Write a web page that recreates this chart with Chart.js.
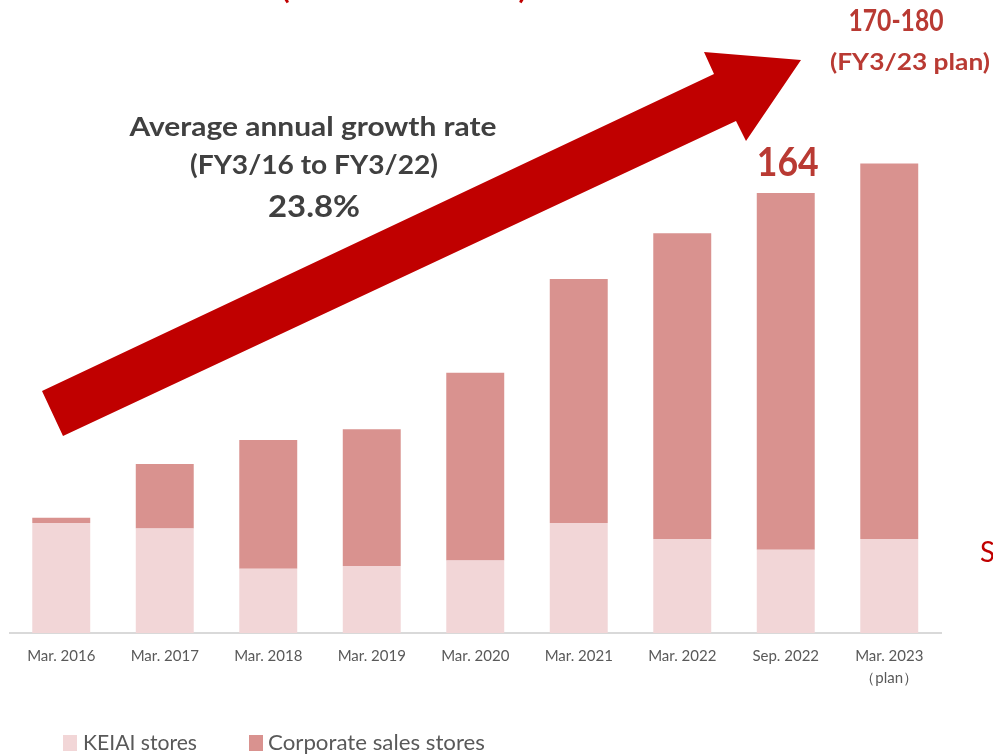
<!DOCTYPE html>
<html>
<head>
<meta charset="utf-8">
<script src="https://cdn.jsdelivr.net/npm/chart.js@4.4.0/dist/chart.umd.min.js"></script>
<style>
  html, body { margin: 0; padding: 0; background: #fff; }
  #wrap { width: 993px; height: 755px; position: relative; }
</style>
</head>
<body>
<div id="wrap"><canvas id="storeChart"></canvas></div>
<script>
// number of stores by period
const categories = ['Mar. 2016', 'Mar. 2017', 'Mar. 2018', 'Mar. 2019', 'Mar. 2020',
                    'Mar. 2021', 'Mar. 2022', 'Sep. 2022', ['Mar. 2023', '（plan）']];
const keiaiStores = [41, 39, 24, 25, 27, 41, 35, 31, 35];
const corporateStores = [2, 24, 48, 51, 70, 91, 114, 133, 140];
const seriesNames = ['KEIAI stores', 'Corporate sales stores'];
const seriesColors = ['#F2D6D7', '#D9928F'];

const FONT = 'Lato, "Open Sans", sans-serif';

// draw text squeezed to a target width (source uses a narrow font)
function fitText(ctx, text, cx, y, w, size, weight, color, align) {
    ctx.save();
    ctx.font = weight + ' ' + size + 'px ' + FONT;
    ctx.fillStyle = color;
    ctx.textBaseline = 'middle';
    const real = ctx.measureText(text).width;
    const sx = w / real;
    ctx.translate(cx, y);
    ctx.scale(sx, 1);
    ctx.textAlign = align || 'center';
    ctx.fillText(text, 0, 0);
    ctx.restore();
}

const annotations = {
    id: 'annotations',
    afterDatasetsDraw(chart) {
        const ctx = chart.ctx;

        // big growth arrow
        ctx.save();
        ctx.fillStyle = '#C00000';
        ctx.beginPath();
        ctx.moveTo(42, 391);
        ctx.lineTo(714, 74);
        ctx.lineTo(704, 52);
        ctx.lineTo(801, 60);
        ctx.lineTo(746, 141);
        ctx.lineTo(736, 121);
        ctx.lineTo(63, 436);
        ctx.closePath();
        ctx.fill();
        ctx.restore();

        fitText(ctx, '(Number of stores)', 404, -9, 245, 26, 'bold', '#C00000');

        fitText(ctx, 'Average annual growth rate', 313, 128, 367, 26, 'bold', '#404040');
        fitText(ctx, '(FY3/16 to FY3/22)', 314, 166, 248, 26, 'bold', '#404040');
        fitText(ctx, '23.8%', 314, 207, 92, 30, 'bold', '#404040');

        fitText(ctx, '170-180', 896, 21, 95, 31, 'bold', '#B93A33');
        fitText(ctx, '(FY3/23 plan)', 910, 63, 160, 23, 'bold', '#B93A33');

        // label over the Sep. 2022 bar
        const meta = chart.getDatasetMeta(1);
        const bar = meta.data[7];
        fitText(ctx, '164', bar.x + 2, bar.y - 30, 62, 40, 'bold', '#B93A33');

        fitText(ctx, 'S', 980, 553, 15, 29, 'normal', '#C00000', 'left');

        // legend
        ctx.save();
        ctx.fillStyle = seriesColors[0];
        ctx.fillRect(63, 735, 14, 16);
        ctx.fillStyle = seriesColors[1];
        ctx.fillRect(249, 735, 14, 16);
        ctx.restore();
        fitText(ctx, seriesNames[0], 83, 743, 114, 21, 'normal', '#595959', 'left');
        fitText(ctx, seriesNames[1], 268, 743, 217, 21, 'normal', '#595959', 'left');
    }
};

new Chart(document.getElementById('storeChart'), {
    type: 'bar',
    data: {
        labels: categories,
        datasets: [
            { label: seriesNames[0], data: keiaiStores, backgroundColor: seriesColors[0] },
            { label: seriesNames[1], data: corporateStores, backgroundColor: seriesColors[1] }
        ]
    },
    options: {
        responsive: true,
        maintainAspectRatio: false,
        animation: false,
        layout: { padding: { left: 9.5, right: 52, top: 0, bottom: 0 } },
        datasets: { bar: { categoryPercentage: 1, barPercentage: 0.56 } },
        plugins: {
            legend: { display: false },
            tooltip: { enabled: false }
        },
        scales: {
            x: {
                stacked: true,
                grid: { display: false, drawTicks: false },
                border: { display: true, color: '#D9D9D9', width: 2 },
                ticks: {
                    color: '#595959',
                    font: { family: FONT, size: 15, lineHeight: 1.47 },
                    padding: 12,
                    maxRotation: 0,
                    autoSkip: false
                },
                afterFit(scale) { scale.height = 122; }
            },
            y: {
                stacked: true,
                display: false,
                min: 0,
                max: 236
            }
        }
    },
    plugins: [annotations]
});
</script>
</body>
</html>
